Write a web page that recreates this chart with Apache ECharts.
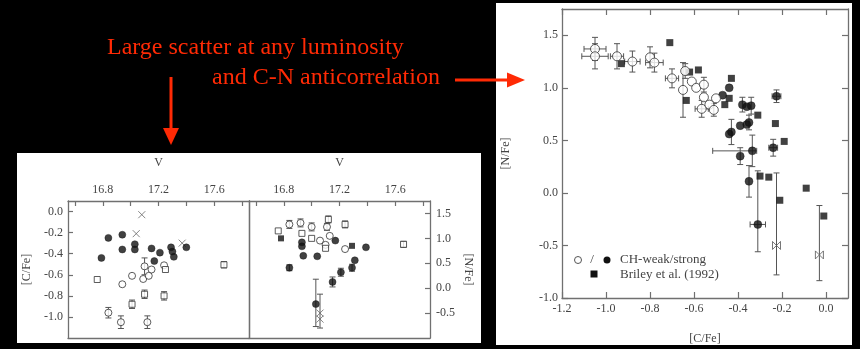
<!DOCTYPE html>
<html>
<head>
<meta charset="utf-8">
<script src="https://cdn.jsdelivr.net/npm/echarts@6/dist/echarts.min.js"></script>
<style>
  html, body { margin: 0; padding: 0; background: #000; }
  #chart { width: 860px; height: 349px; }
</style>
</head>
<body>
<div id="chart"></div>
<script>
// ---- V magnitude vs [C/Fe]  : [V, [C/Fe], yErr]
const vcStrong = [[16.79,-0.44],[16.84,-0.25],[16.94,-0.22],[16.94,-0.36],[17.03,-0.31],[17.03,-0.36],
  [17.15,-0.35],[17.17,-0.47],[17.21,-0.39],[17.29,-0.34],[17.30,-0.38],[17.31,-0.43],[17.40,-0.34]];
const vcWeak = [[17.01,-0.61],[16.94,-0.69],[17.09,-0.64],[17.10,-0.52,0.08],[17.13,-0.61],[17.15,-0.55],
  [17.24,-0.51],[16.84,-0.96,0.05],[16.93,-1.05,0.06],[17.12,-1.05,0.06]];
const vcOpenSq = [[16.76,-0.645],[17.01,-0.88,0.04],[17.10,-0.785,0.04],[17.24,-0.80,0.04],[17.25,-0.55],[17.67,-0.505,0.03]];
const vcCross = [[17.08,-0.03],[17.04,-0.21],[17.37,-0.30]];

// ---- V magnitude vs [N/Fe]  : [V, [N/Fe], yErr]
const vnWeak = [[16.84,1.28,0.08],[16.92,1.31,0.08],[17.00,1.23,0.08],[17.06,0.955],[17.11,1.23,0.07],
  [17.13,1.05],[17.10,0.87],[17.24,0.785]];
const vnOpenSq = [[16.76,1.15],[16.93,1.10],[17.00,1.00],[17.12,1.38,0.07],[17.10,0.80],[17.24,1.28,0.07],[17.66,0.88,0.06]];
const vnStrong = [[16.84,0.41,0.06],[16.93,0.84],[16.93,0.92],[16.94,0.65],[17.04,0.64],[17.17,0.955],
  [17.21,0.32,0.08],[17.15,0.125,0.1],[17.29,0.41,0.07],[17.31,0.56],[17.39,0.82],[17.03,-0.32,[0.45,0.5]]];
const vnStrongSq = [[16.78,1.0],[17.29,0.85]];
const vnCross = [[17.06,-0.50,[0.3,0.38]],[17.06,-0.62]];

// ---- [C/Fe] vs [N/Fe] : [C, N, yErr, xErr]  (errors: number or [low, high])
const cnWeak = [[-1.05,1.37,0.11,0.05],[-1.05,1.30,0.12,0.06],[-0.95,1.30,0.12,0.03],[-0.88,1.25,0.10,0.035],
  [-0.80,1.29,0.10,0],[-0.78,1.24,0.09,0.04],[-0.70,1.09,0.09,0.03],[-0.64,1.16,0.07,0],[-0.65,0.98,0.26,0],
  [-0.61,1.06],[-0.59,1.00],[-0.555,1.03,0.07],[-0.555,0.91],[-0.565,0.80,0.08,0.03],[-0.53,0.84],
  [-0.51,0.79,0.06],[-0.50,0.90]];
const cnStrong = [[-0.47,0.93],[-0.44,1.00],[-0.38,0.84,0.07],[-0.36,0.82],[-0.34,0.83,0.08],
  [-0.225,0.92,0.06,0.02],[-0.24,0.43,0.08,0.02],[-0.43,0.58,0.12],[-0.44,0.56],[-0.39,0.64],[-0.36,0.65],
  [-0.35,0.67,0.07],[-0.39,0.35,0.08],[-0.335,0.40,0.15,[0.18,0.02]],[-0.35,0.11,0.15],[-0.31,-0.30,[0.26,0.51],0.035]];
const cnBriley = [[-0.93,1.23],[-0.71,1.43],[-0.635,0.88],[-0.62,1.15],[-0.58,1.17],[-0.43,1.09],[-0.46,0.84],
  [-0.44,0.90],[-0.31,0.74],[-0.23,0.66],[-0.19,0.49],[-0.30,0.16],[-0.26,0.15],[-0.21,-0.07],[-0.09,0.045],[-0.01,-0.22]];
const cnLimit = [[-0.225,-0.50,[0.28,0.69]],[-0.03,-0.59,[0.245,0.47]]];

// ---- tick values
const vLabels = [16.8, 17.2, 17.6];
const vTicks = [16.6, 16.8, 17.0, 17.2, 17.4, 17.6, 17.8];
const cfeLeftLabels = [0.0, -0.2, -0.4, -0.6, -0.8, -1.0];
const nfeLabels = [-1.0, -0.5, 0.0, 0.5, 1.0, 1.5];
const nfeSmallLabels = [-0.5, 0.0, 0.5, 1.0, 1.5];
const cfeLabels = [-1.2, -1.0, -0.8, -0.6, -0.4, -0.2, 0.0];

const SERIF = '"Liberation Serif", "DejaVu Serif", serif';
const RED = '#ff2a05';
const lineCol = '#707070';

const chart = echarts.init(document.getElementById('chart'), null, { renderer: 'canvas' });

function baseAxis(o) {
  return Object.assign({
    type: 'value',
    splitLine: { show: false },
    axisLine: { show: true, onZero: false, lineStyle: { color: lineCol, width: 1.3 } },
    axisTick: { show: false },
    axisLabel: { show: false },
    nameTextStyle: { fontFamily: SERIF, fontSize: 12, color: '#444' }
  }, o);
}
function ticks(vals, len) {
  return { show: true, inside: true, length: len || 5, customValues: vals, lineStyle: { color: lineCol, width: 1.2 } };
}
function labels(vals, margin) {
  return { show: true, customValues: vals, margin: margin, formatter: v => v.toFixed(1),
    fontFamily: SERIF, fontSize: 12, color: '#444' };
}

function norm(p) {
  const e = p[2] || 0, xe = p[3] || 0;
  const ye2 = Array.isArray(e) ? e : [e, e];
  const xe2 = Array.isArray(xe) ? xe : [xe, xe];
  return [p[0], p[1], ye2[0], ye2[1], xe2[0], xe2[1]];
}
function errSeries(pts, xi, yi, cap) {
  return {
    type: 'custom', xAxisIndex: xi, yAxisIndex: yi, z: 1, silent: true,
    data: pts.map(norm).filter(d => d[2] || d[3] || d[4] || d[5]),
    renderItem(params, api) {
      const x = api.value(0), y = api.value(1);
      const yl = api.value(2), yh = api.value(3), xl = api.value(4), xh = api.value(5);
      const st = { stroke: '#555', lineWidth: 1 };
      const ch = [];
      const c = api.coord([x, y]);
      const seg = (x1, y1, x2, y2) => ch.push({ type: 'line', shape: { x1, y1, x2, y2 }, style: st });
      if (yl || yh) {
        const t = api.coord([x, y + yh]), b = api.coord([x, y - yl]);
        seg(c[0], t[1], c[0], b[1]);
        if (yh) seg(c[0] - cap, t[1], c[0] + cap, t[1]);
        if (yl) seg(c[0] - cap, b[1], c[0] + cap, b[1]);
      }
      if (xl || xh) {
        const l = api.coord([x - xl, y]), r = api.coord([x + xh, y]);
        seg(l[0], c[1], r[0], c[1]);
        if (xl) seg(l[0], c[1] - cap, l[0], c[1] + cap);
        if (xh) seg(r[0], c[1] - cap, r[0], c[1] + cap);
      }
      return { type: 'group', children: ch };
    }
  };
}
function dots(pts, xi, yi, kind, size) {
  const styles = {
    open:   { symbol: 'circle', item: { color: '#fff', borderColor: '#333', borderWidth: 1 } },
    filled: { symbol: 'circle', item: { color: '#111', borderColor: '#111', borderWidth: 0.5 } },
    osq:    { symbol: 'rect',   item: { color: '#fff', borderColor: '#333', borderWidth: 1 } },
    fsq:    { symbol: 'rect',   item: { color: '#111' } },
    cross:  { symbol: 'path://M0,0L10,10M10,0L0,10', item: { color: 'none', borderColor: '#666', borderWidth: 1 } },
    bow:    { symbol: 'path://M0,0L0,10L10,0L10,10Z', item: { color: '#fff', borderColor: '#555', borderWidth: 1 } }
  };
  const s = styles[kind];
  return {
    type: 'scatter', xAxisIndex: xi, yAxisIndex: yi, z: 3, silent: true,
    symbol: s.symbol, symbolSize: size, symbolKeepAspect: true,
    itemStyle: s.item, data: pts.map(p => [p[0], p[1]])
  };
}

const option = {
  backgroundColor: '#000',
  animation: false,
  grid: [
    { left: 68, top: 201, width: 181, height: 137, outerBoundsMode: 'none' },
    { left: 249, top: 201, width: 181, height: 137, outerBoundsMode: 'none' },
    { left: 562, top: 9, width: 286, height: 289, outerBoundsMode: 'none' }
  ],
  xAxis: [
    baseAxis({ gridIndex: 0, position: 'top', min: 16.55, max: 17.85, name: 'V', nameLocation: 'middle', nameGap: 32,
      axisTick: ticks(vTicks), axisLabel: labels(vLabels, 5) }),
    baseAxis({ gridIndex: 0, position: 'bottom', min: 16.55, max: 17.85 }),
    baseAxis({ gridIndex: 1, position: 'top', min: 16.55, max: 17.85, name: 'V', nameLocation: 'middle', nameGap: 32,
      axisTick: ticks(vTicks), axisLabel: labels(vLabels, 5) }),
    baseAxis({ gridIndex: 1, position: 'bottom', min: 16.55, max: 17.85 }),
    baseAxis({ gridIndex: 2, position: 'bottom', min: -1.2, max: 0.1, name: '[C/Fe]', nameLocation: 'middle', nameGap: 35,
      axisTick: ticks(cfeLabels, 6), axisLabel: labels(cfeLabels, 5) }),
    baseAxis({ gridIndex: 2, position: 'top', min: -1.2, max: 0.1, axisTick: ticks(cfeLabels, 6) })
  ],
  yAxis: [
    baseAxis({ gridIndex: 0, position: 'left', min: -1.2, max: 0.1, name: '[C/Fe]', nameLocation: 'middle', nameGap: 35,
      axisTick: ticks(cfeLeftLabels), axisLabel: labels(cfeLeftLabels, 5) }),
    baseAxis({ gridIndex: 0, position: 'right', min: -1.2, max: 0.1 }),
    baseAxis({ gridIndex: 1, position: 'right', min: -1.0, max: 1.75, name: '[N/Fe]', nameLocation: 'middle', nameGap: 32,
      nameRotate: -90, axisTick: ticks(nfeSmallLabels), axisLabel: labels(nfeSmallLabels, 6) }),
    baseAxis({ gridIndex: 1, position: 'left', min: -1.0, max: 1.75 }),
    baseAxis({ gridIndex: 2, position: 'left', min: -1.0, max: 1.75, name: '[N/Fe]', nameLocation: 'middle', nameGap: 50,
      axisTick: ticks(nfeLabels, 6), axisLabel: labels(nfeLabels, 4) }),
    baseAxis({ gridIndex: 2, position: 'right', min: -1.0, max: 1.75, axisTick: ticks(nfeLabels, 6) })
  ],
  series: [
    errSeries(vcWeak, 0, 0, 3), errSeries(vcOpenSq, 0, 0, 3),
    dots(vcCross, 0, 0, 'cross', 7), dots(vcStrong, 0, 0, 'filled', 7),
    dots(vcWeak, 0, 0, 'open', 7), dots(vcOpenSq, 0, 0, 'osq', 6),

    errSeries(vnWeak, 2, 2, 3), errSeries(vnOpenSq, 2, 2, 3), errSeries(vnStrong, 2, 2, 3), errSeries(vnCross, 2, 2, 3),
    dots(vnCross, 2, 2, 'cross', 7), dots(vnStrong, 2, 2, 'filled', 7), dots(vnStrongSq, 2, 2, 'fsq', 6),
    dots(vnWeak, 2, 2, 'open', 7), dots(vnOpenSq, 2, 2, 'osq', 6),

    errSeries(cnWeak, 4, 4, 3), errSeries(cnStrong, 4, 4, 3), errSeries(cnLimit, 4, 4, 3),
    dots(cnBriley, 4, 4, 'fsq', 7), dots(cnStrong, 4, 4, 'filled', 8),
    dots(cnWeak, 4, 4, 'open', 9), dots(cnLimit, 4, 4, 'bow', 8)
  ],
  graphic: [
    // white panels
    { type: 'rect', z: -10, silent: true, shape: { x: 17, y: 153, width: 464, height: 190 }, style: { fill: '#fff' } },
    { type: 'rect', z: -10, silent: true, shape: { x: 496, y: 3, width: 356, height: 342 }, style: { fill: '#fff' } },
    // annotation
    { type: 'text', silent: true, style: { x: 107, y: 36, text: 'Large scatter at any luminosity', fill: RED,
      font: '24px ' + SERIF, verticalAlign: 'top' } },
    { type: 'text', silent: true, style: { x: 212, y: 66, text: 'and C-N anticorrelation', fill: RED,
      font: '24px ' + SERIF, verticalAlign: 'top' } },
    { type: 'line', silent: true, shape: { x1: 455, y1: 80, x2: 510, y2: 80 }, style: { stroke: RED, lineWidth: 3 } },
    { type: 'polygon', silent: true, shape: { points: [[507, 72.5], [525, 80], [507, 87.5]] }, style: { fill: RED } },
    { type: 'line', silent: true, shape: { x1: 171, y1: 77, x2: 171, y2: 131 }, style: { stroke: RED, lineWidth: 3 } },
    { type: 'polygon', silent: true, shape: { points: [[163, 128], [171, 145], [179, 128]] }, style: { fill: RED } },
    // key
    { type: 'circle', silent: true, shape: { cx: 578, cy: 260, r: 3.5 }, style: { fill: '#fff', stroke: '#555', lineWidth: 1 } },
    { type: 'text', silent: true, style: { x: 592, y: 260, text: '/', fill: '#444', font: '13px ' + SERIF, align: 'center', verticalAlign: 'middle' } },
    { type: 'circle', silent: true, shape: { cx: 607, cy: 260, r: 3.5 }, style: { fill: '#111' } },
    { type: 'text', silent: true, style: { x: 620, y: 260, text: 'CH-weak/strong', fill: '#444', font: '13px ' + SERIF, verticalAlign: 'middle' } },
    { type: 'rect', silent: true, shape: { x: 590.5, y: 270.5, width: 7, height: 7 }, style: { fill: '#111' } },
    { type: 'text', silent: true, style: { x: 620, y: 274.5, text: 'Briley et al. (1992)', fill: '#444', font: '13px ' + SERIF, verticalAlign: 'middle' } }
  ]
};
chart.setOption(option);
</script>
</body>
</html>
